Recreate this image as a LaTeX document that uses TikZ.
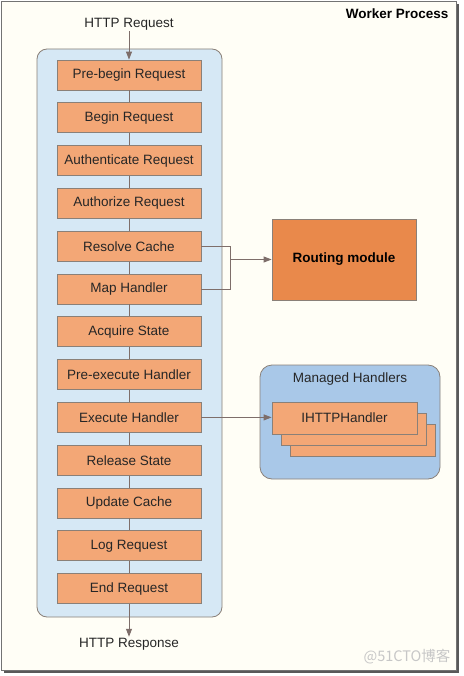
\documentclass[tikz,border=0pt]{standalone}
\usepackage{fontspec}
\setmainfont{Liberation Sans}
\newfontfamily\cjk{Noto Sans CJK SC}
\usepackage{tikz}
\usetikzlibrary{positioning,arrows.meta,backgrounds,calc}
\definecolor{pagebg}{HTML}{FFFEF6}
\definecolor{stagefill}{HTML}{F3A776}
\definecolor{routefill}{HTML}{E9894B}
\definecolor{pipefill}{HTML}{D6E8F5}
\definecolor{handlerfill}{HTML}{A9C8E8}
\definecolor{edgegray}{HTML}{7E6E6A}
\definecolor{boxgray}{HTML}{8A8078}
\tikzstyle{stage} = [rectangle, draw=boxgray, fill=stagefill, line width=0.8pt, %
   minimum width=144pt, minimum height=30pt, inner sep=0pt, text=black!85]
\tikzstyle{routebox} = [rectangle, draw=boxgray, fill=routefill, line width=0.8pt, %
   minimum width=144pt, minimum height=81pt, font=\fontsize{13.5}{16}\selectfont\bfseries]
\tikzstyle{pipe} = [rectangle, draw=boxgray, fill=pipefill, rounded corners=10pt, %
   line width=0.8pt, minimum width=185pt, minimum height=568pt]
\tikzstyle{handlers} = [rectangle, draw=boxgray, fill=handlerfill, rounded corners=12pt, %
   line width=0.8pt, minimum width=180pt, minimum height=114pt]
\tikzstyle{label} = [text=black!85, inner sep=1pt]
\tikzstyle{link} = [draw, edgegray, line width=0.9pt]
\tikzstyle{line} = [draw, edgegray, line width=0.9pt, -{Triangle[length=8pt,width=6pt]}]

\begin{document}
\begin{tikzpicture}[x=1pt, y=1pt, font=\fontsize{13.5}{16}\selectfont]
   \useasboundingbox (0,0) rectangle (463,-676);

   % Frame with shadow
   \fill[black!65] (4,-4) rectangle (459,-673);
   \draw[fill=pagebg, draw=black!55, line width=0.8pt] (1,-1) rectangle (456,-670);
   \node[anchor=east, font=\fontsize{13.5}{16}\selectfont\bfseries](worker) at (452,-14){Worker Process};

   % Pipeline container
   \node[pipe](pipeline) at (129.5,-333){};

% MAIN SPINE %%%%%%%%%%%%%%%%%%%%%%%%%%%%%%%%%%%%%%%%%%%%%%%%%%%%%%%%%%
   \node[stage](prebegin) at (129,-75){Pre-begin Request};
   \node[stage, below=12pt of prebegin](beginreq){Begin Request};
   \node[stage, below=12pt of beginreq](authn){Authenticate Request};
   \node[stage, below=12pt of authn](authz){Authorize Request};
   \node[stage, below=12pt of authz](rescache){Resolve Cache};
   \node[stage, below=12pt of rescache](maphandler){Map Handler};
   \node[stage, below=12pt of maphandler](acqstate){Acquire State};
   \node[stage, below=12pt of acqstate](preexec){Pre-execute Handler};
   \node[stage, below=12pt of preexec](exechandler){Execute Handler};
   \node[stage, below=12pt of exechandler](relstate){Release State};
   \node[stage, below=12pt of relstate](updcache){Update Cache};
   \node[stage, below=12pt of updcache](logreq){Log Request};
   \node[stage, below=12pt of logreq](endreq){End Request};

   \node[label](request) at (129,-24){HTTP Request};
   \node[label](response) at (129,-644){HTTP Response};

% ROUTING %%%%%%%%%%%%%%%%%%%%%%%%%%%%%%%%%%%%%%%%%%%%%%%%%%%%%%%%%%%%%
   \node[routebox](routing) at (344,-259.5){Routing module};
   \coordinate (cachejoin) at ($(rescache.east)+(29,0)$);
   \coordinate (mapjoin) at (cachejoin |- maphandler.east);
   \coordinate (routejoin) at (cachejoin |- routing.west);

% MANAGED HANDLERS %%%%%%%%%%%%%%%%%%%%%%%%%%%%%%%%%%%%%%%%%%%%%%%%%%%%
   \node[handlers](managed) at (350,-422){};
   \node[label](managedtitle) at (350,-379){Managed Handlers};
   \node[stage, minimum width=145pt, minimum height=32pt](handler3) at (362.5,-440){};
   \node[stage, minimum width=145pt, minimum height=32pt](handler2) at (353.5,-429){};
   \node[stage, minimum width=145pt, minimum height=32pt](handler1) at (344.5,-418){IHTTPHandler};

   % Watermark
   \node[text=black!22, anchor=east, font=\cjk\fontsize{14.5}{16}\selectfont](mark) at (454,-657){@51CTO博客};

   % Draw edges
   % Main spine
   \path [line] (request) -- (prebegin);
   \path [link] (prebegin) -- (beginreq);
   \path [link] (beginreq) -- (authn);
   \path [link] (authn) -- (authz);
   \path [link] (authz) -- (rescache);
   \path [link] (rescache) -- (maphandler);
   \path [link] (maphandler) -- (acqstate);
   \path [link] (acqstate) -- (preexec);
   \path [link] (preexec) -- (exechandler);
   \path [link] (exechandler) -- (relstate);
   \path [link] (relstate) -- (updcache);
   \path [link] (updcache) -- (logreq);
   \path [link] (logreq) -- (endreq);
   \path [line] (endreq) -- (response);

   % Routing branch
   \path [link] (rescache.east) -- (cachejoin) -- (mapjoin) -- (maphandler.east);
   \path [line] (routejoin) -- (routing);

   % Handler branch
   \path [line] (exechandler.east) -- (exechandler.east -| handler1.west);

\end{tikzpicture}
\end{document}
